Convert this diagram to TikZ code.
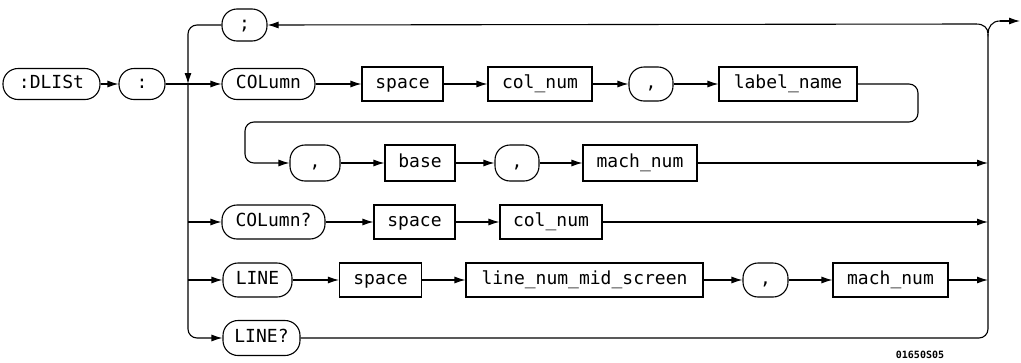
\documentclass[tikz,border=0pt]{standalone}
\usepackage{fontspec}
\setmonofont{DejaVu Sans Mono}
\usetikzlibrary{arrows.meta}
\begin{document}
\begin{tikzpicture}[x=1pt, y=-1pt, line width=1.1pt,
    term/.style={draw, rounded corners=15pt, minimum height=31pt, inner sep=0pt,
        text height=12pt, text depth=3pt,
        font=\ttfamily\fontsize{18}{18}\selectfont},
    param/.style={draw, rectangle, minimum height=34pt, inner sep=0pt,
        text height=12pt, text depth=3pt,
        font=\ttfamily\fontsize{18}{18}\selectfont},
    arr/.style={-{Latex[length=11pt,width=7pt]}},
    turn/.style={rounded corners=9pt}]
    \useasboundingbox (0,0) rectangle (1021,362);
    % first row
    \node[term, minimum width=97] (dlist) at (51.5,84) {:DLISt};
    \node[term, minimum width=46] (colon) at (142,84) {:};
    \node[term, minimum width=45, minimum height=32] (semi) at (244.5,25) {;};
    \node[term, minimum width=93] (column) at (268.5,84) {COLumn};
    \node[param, minimum width=81] (space1) at (402.5,84) {space};
    \node[param, minimum width=104] (colnum1) at (540,84) {col\_num};
    \node[term, minimum width=44, minimum height=34] (comma1) at (651,84) {,};
    \node[param, minimum width=138] (labelname) at (788,84) {label\_name};
    % second row
    \node[term, minimum width=50, minimum height=36] (comma2) at (315,163) {,};
    \node[param, minimum width=70, minimum height=36] (base) at (420,163) {base};
    \node[term, minimum width=44, minimum height=36] (comma3) at (517,163) {,};
    \node[param, minimum width=114, minimum height=36] (machnum1) at (640,163) {mach\_num};
    % COLumn? row
    \node[term, minimum width=103, minimum height=34] (columnq) at (273.5,222) {COLumn?};
    \node[param, minimum width=81] (space2) at (414.5,222) {space};
    \node[param, minimum width=102] (colnum2) at (551,222) {col\_num};
    % LINE row
    \node[term, minimum width=69, minimum height=34] (line) at (257.5,280) {LINE};
    \node[param, minimum width=82] (space3) at (380.5,280) {space};
    \node[param, minimum width=237] (linenum) at (584.5,280) {line\_num\_mid\_screen};
    \node[term, minimum width=45, minimum height=34] (comma4) at (765.5,280) {,};
    \node[param, minimum width=115] (machnum2) at (890.5,280) {mach\_num};
    % LINE? row
    \node[term, minimum width=77, minimum height=35] (lineq) at (261.5,338) {LINE?};
    \node[font=\ttfamily\bfseries\fontsize{10}{10}\selectfont] (fignum) at (920,355) {01650S05};

    \coordinate (j) at (188,84);
    \coordinate (rt) at (988,34);
    \coordinate (bl) at (976,24);
    \coordinate (br) at (1000,21);
    \coordinate (exit) at (1020,21);
    \coordinate (loopr) at (918,122);
    \coordinate (loopl) at (245,122);

    \draw[arr] (dlist) -- (colon);
    \draw[arr] (colon) -- (column);
    \draw[arr, turn] (semi.west) -| (j);
    \draw[arr, turn] (j) |- (lineq.west);
    \draw[arr] (j |- columnq) -- (columnq);
    \draw[arr] (j |- line) -- (line);

    \draw[arr] (column) -- (space1);
    \draw[arr] (space1) -- (colnum1);
    \draw[arr] (colnum1) -- (comma1);
    \draw[arr] (comma1) -- (labelname);
    \draw[arr, turn] (labelname.east) -| (loopr) -- (loopl) |- (comma2.west);

    \draw[arr] (comma2) -- (base);
    \draw[arr] (base) -- (comma3);
    \draw[arr] (comma3) -- (machnum1);
    \draw[arr] (machnum1) -- (machnum1 -| rt);

    \draw[arr] (columnq) -- (space2);
    \draw[arr] (space2) -- (colnum2);
    \draw[arr] (colnum2) -- (colnum2 -| rt);

    \draw[arr] (line) -- (space3);
    \draw[arr] (space3) -- (linenum);
    \draw[arr] (linenum) -- (comma4);
    \draw[arr] (comma4) -- (machnum2);
    \draw[arr] (machnum2) -- (machnum2 -| rt);

    \draw[turn] (lineq.east) -| (rt);
    \draw[arr] (bl) -- (semi.east);
    \draw (bl) .. controls (984,24) and (988,28) .. (rt) .. controls (988,27) and (992,21) .. (br);
    \draw[arr] (br) -- (exit);
\end{tikzpicture}
\end{document}
